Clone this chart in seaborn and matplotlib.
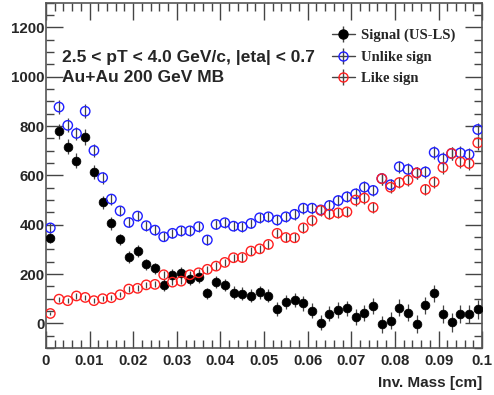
import numpy as np
import pandas as pd
import matplotlib
matplotlib.use("Agg")
import matplotlib.pyplot as plt
import seaborn as sns
from matplotlib.lines import Line2D
from matplotlib.ticker import MultipleLocator, FuncFormatter

# ==========================
# DATA
# ==========================

mass = np.arange(0.001, 0.1, 0.002)  # bin centers [cm]

signal = [347, 779, 716, 660, 756, 612, 491, 405, 340, 270,
          292, 239, 223, 155, 196, 204, 181, 188, 121, 167,
          156, 124, 120, 111, 126, 112, 58, 85, 96, 81,
          51, 2, 38, 54, 61, 27, 43, 70, -3, 11,
          63, 43, -3, 73, 121, 38, 4, 38, 38, 57]

unlike = [387, 877, 803, 770, 860, 701, 591, 504, 456, 409,
          435, 396, 378, 351, 365, 375, 375, 392, 338, 401,
          408, 394, 392, 405, 428, 432, 419, 432, 442, 467,
          467, 460, 478, 498, 513, 525, 552, 539, 587, 562,
          635, 624, 610, 614, 693, 667, 689, 691, 685, 786]

like = [40, 98, 92, 111, 105, 92, 100, 104, 116, 139,
        142, 156, 158, 197, 167, 171, 197, 205, 219, 232,
        247, 266, 267, 293, 302, 320, 365, 348, 347, 387,
        417, 458, 443, 448, 452, 500, 508, 470, 587, 552,
        571, 581, 610, 543, 573, 632, 689, 655, 648, 732]

df = pd.DataFrame({"mass": mass, "signal": signal, "unlike": unlike, "like": like})
df["unlike_err"] = np.sqrt(df["unlike"])
df["like_err"] = np.sqrt(df["like"])
df["signal_err"] = np.sqrt(df["unlike"] + df["like"])

# ==========================
# STYLE
# ==========================

sns.set_style("ticks")
plt.rcParams["font.family"] = ["Liberation Sans", "DejaVu Sans"]
plt.rcParams["font.weight"] = "bold"

fig = plt.figure(figsize=(4.94, 3.95), dpi=100)
ax = fig.add_axes([0.093, 0.119, 0.883, 0.874])

err_col = "#444444"
blue = "#1f1fff"
red = "#ff2020"

# error bars first, markers on top
for col in ["signal", "unlike", "like"]:
    ax.errorbar(df["mass"], df[col], yerr=df[col + "_err"], fmt="none",
                ecolor=err_col, elinewidth=0.9, capsize=0, zorder=2)

sns.scatterplot(data=df, x="mass", y="signal", ax=ax, marker="o", s=40,
                color="black", edgecolor="black", linewidth=0.5, zorder=3)
sns.scatterplot(data=df, x="mass", y="unlike", ax=ax, marker="o", s=46,
                facecolor="none", edgecolor=blue, linewidth=1.0, zorder=4)
sns.scatterplot(data=df, x="mass", y="like", ax=ax, marker="o", s=46,
                facecolor="none", edgecolor=red, linewidth=1.0, zorder=5)

# ==========================
# AXES
# ==========================

ax.set_xlim(0, 0.1)
ax.set_ylim(-100, 1300)
ax.xaxis.set_major_locator(MultipleLocator(0.01))
ax.xaxis.set_minor_locator(MultipleLocator(0.002))
ax.yaxis.set_major_locator(MultipleLocator(200))
ax.yaxis.set_minor_locator(MultipleLocator(50))
ax.xaxis.set_major_formatter(FuncFormatter(lambda v, p: "%g" % round(v, 3)))
ax.set_yticks([0, 200, 400, 600, 800, 1000, 1200])

ax.tick_params(which="both", direction="in", top=True, right=True,
               color="#444444", labelsize=10.8)
ax.tick_params(axis="y", pad=1)
ax.tick_params(axis="x", pad=4)
ax.tick_params(which="major", length=12, width=1.0)
ax.tick_params(which="minor", length=6, width=1.0)
for lab in ax.get_xticklabels() + ax.get_yticklabels():
    lab.set_fontweight("bold")
for sp in ax.spines.values():
    sp.set_color("#555555")
    sp.set_linewidth(1.2)

ax.set_xlabel("Inv. Mass [cm]", fontsize=11, fontweight="bold", loc="right",
              labelpad=6)
ax.set_ylabel("")

# ==========================
# TEXT + LEGEND
# ==========================

ax.text(0.037, 0.841, "2.5 < pT < 4.0 GeV/c, |eta| < 0.7", transform=ax.transAxes,
        fontsize=12.5, fontweight="bold", va="center")
ax.text(0.037, 0.783, "Au+Au 200 GeV MB", transform=ax.transAxes,
        fontsize=12.5, fontweight="bold", va="center")

handles = []
for fc, ec in [("black", "black"), ("none", blue), ("none", red)]:
    h_line = Line2D([], [], color=err_col, lw=1.0, marker="o", markersize=6.5,
                    markerfacecolor=fc, markeredgecolor=ec)
    h_bar = Line2D([], [], color=err_col, ls="none", marker="|", markersize=11)
    handles.append((h_bar, h_line))

leg = ax.legend(handles, ["Signal (US-LS)", "Unlike sign", "Like sign"],
                loc="upper left", bbox_to_anchor=(0.625, 0.963), frameon=False,
                handlelength=1.6, handletextpad=0.4, labelspacing=0.58,
                prop={"family": "Liberation Serif", "weight": "bold", "size": 10.5})

fig.savefig("out.png", dpi=100)
